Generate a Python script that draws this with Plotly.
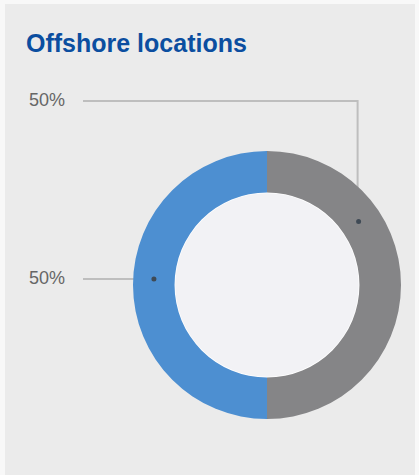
import math
import plotly.graph_objects as go

# ---- data ----
categories = ["Other locations", "Offshore"]
values = [50, 50]
colors = ["#858587", "#4D8FD1"]
label_texts = [f"{v}%" for v in values]
callout_angles = [54, 267]  # degrees clockwise from 12 o'clock, where each leader line touches its slice

W, H = 419, 475
CX, CY, R = 267, 285, 134  # donut centre / outer radius in px
HOLE = 0.69

def px(x):
    return x / W

def py(y):
    return 1 - y / H

fig = go.Figure(go.Pie(
    labels=categories,
    values=values,
    marker=dict(colors=colors, line=dict(width=0)),
    hole=HOLE,
    sort=False,
    direction="clockwise",
    rotation=0,
    textinfo="none",
    hoverinfo="skip",
    showlegend=False,
    domain=dict(x=[px(CX - R), px(CX + R)], y=[py(CY + R), py(CY - R)]),
))

shapes = [
    # panel
    dict(type="rect", xref="paper", yref="paper", x0=px(5), x1=px(415), y0=0, y1=py(4),
         fillcolor="#EBEBEB", line=dict(width=0), layer="below"),
    # inner disc
    dict(type="circle", xref="paper", yref="paper",
         x0=px(CX - R * HOLE), x1=px(CX + R * HOLE), y0=py(CY + R * HOLE), y1=py(CY - R * HOLE),
         fillcolor="#F2F2F5", line=dict(color="#FFFFFF", width=1.5), layer="below"),
]

mid_r = R * (1 + HOLE) / 2
label_y = [101, 279]
annotations = [dict(text="<b>Offshore locations</b>", x=px(24), y=py(43), xref="paper", yref="paper",
                    xanchor="left", yanchor="middle", showarrow=False,
                    font=dict(family="Liberation Sans, Arial, sans-serif", size=25, color="#0B4EA0"))]

for i, ang in enumerate(callout_angles):
    a = math.radians(ang)
    dx = CX + mid_r * math.sin(a)
    dy = CY - mid_r * math.cos(a) + (3 if i == 0 else 0)
    ly = label_y[i]
    if i == 0:
        path = f"M {px(83)} {py(ly)} L {px(dx-1)} {py(ly)} L {px(dx-1)} {py(dy)}"
    else:
        path = f"M {px(83)} {py(ly)} L {px(dx)} {py(ly)}"
    shapes.append(dict(type="path", xref="paper", yref="paper", path=path,
                       line=dict(color="#BEBEBE", width=2), layer="below"))
    shapes.append(dict(type="circle", xref="paper", yref="paper",
                       x0=px(dx - 2.5), x1=px(dx + 2.5), y0=py(ly if i else dy) - 2.5 / H, y1=py(ly if i else dy) + 2.5 / H,
                       fillcolor="#3F4A55", line=dict(width=0), layer="above"))
    annotations.append(dict(text=label_texts[i], x=px(67), y=py(ly - 1), xref="paper", yref="paper",
                            xanchor="right", yanchor="middle", showarrow=False,
                            font=dict(family="Liberation Sans, Arial, sans-serif", size=18, color="#666666")))

fig.update_layout(
    width=W, height=H,
    margin=dict(l=0, r=0, t=0, b=0),
    paper_bgcolor="#F8F8F8",
    plot_bgcolor="rgba(0,0,0,0)",
    shapes=shapes,
    annotations=annotations,
)

fig.write_html("out.html", config={"displayModeBar": False},
               post_script="document.body.style.margin='0';document.body.style.overflow='hidden';")
